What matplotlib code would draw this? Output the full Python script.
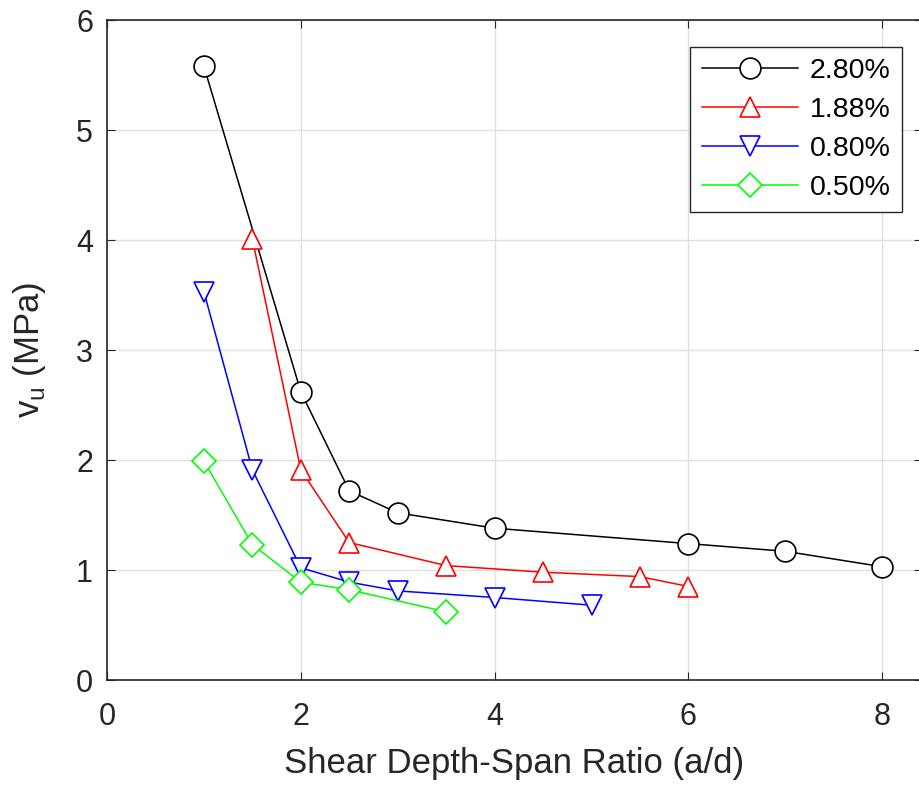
import matplotlib
matplotlib.use("Agg")
import matplotlib.pyplot as plt

plt.rcParams['font.family'] = ['Liberation Sans', 'DejaVu Sans']

x_280 = [1, 2, 2.5, 3, 4, 6, 7, 8]
y_280 = [5.58, 2.62, 1.72, 1.52, 1.38, 1.24, 1.17, 1.03]
x_188 = [1.5, 2, 2.5, 3.5, 4.5, 5.5, 6]
y_188 = [4.01, 1.91, 1.25, 1.04, 0.98, 0.94, 0.85]
x_080 = [1, 1.5, 2, 2.5, 3, 4, 5]
y_080 = [3.53, 1.91, 1.02, 0.89, 0.81, 0.75, 0.68]
x_050 = [1, 1.5, 2, 2.5, 3.5]
y_050 = [1.99, 1.23, 0.89, 0.82, 0.62]
labels = ['2.80%', '1.88%', '0.80%', '0.50%']

fig = plt.figure(figsize=(9.2, 7.86), dpi=100)
xmax = (922 - 107) / 96.9
ax = fig.add_axes([107/920, 1-680/786, 815/920, 660/786])

axc = '#262626'
ax.plot(x_280, y_280, '-o', color='black', mfc='white', mec='black', ms=15, lw=1.1, mew=1.2, label=labels[0])
ax.plot(x_188, y_188, '-^', color='#ff0000', mfc='white', mec='#ff0000', ms=15, lw=1.1, mew=1.2, label=labels[1])
ax.plot(x_080, y_080, '-v', color='#0000ff', mfc='white', mec='#0000ff', ms=15, lw=1.1, mew=1.2, label=labels[2])
ax.plot(x_050, y_050, '-D', color='#00ff00', mfc='white', mec='#00ff00', ms=12, lw=1.1, mew=1.2, label=labels[3])

ax.set_xlim(0, xmax)
ax.set_ylim(0, 6)
ax.set_xticks([0, 2, 4, 6, 8])
ax.set_yticks([0, 1, 2, 3, 4, 5, 6])
ax.grid(True, color='#e0e0e0', lw=1)
ax.set_axisbelow(True)
ax.tick_params(direction='in', top=True, right=True, labelsize=22, colors=axc, length=6)
ax.tick_params(axis='x', pad=16)
ax.tick_params(axis='y', pad=10)
for s in ax.spines.values():
    s.set_color(axc)
    s.set_linewidth(1.2)

ax.set_xlabel('Shear Depth-Span Ratio (a/d)', fontsize=25, color=axc, labelpad=11)
ax.set_ylabel(r'v$_\mathregular{u}$ (MPa)', fontsize=25, color=axc, labelpad=20)

leg = ax.legend(loc='upper right', bbox_to_anchor=(902/920, 1-47/786), bbox_transform=fig.transFigure,
                fontsize=20.5, fancybox=False, framealpha=1, edgecolor='#262626', handlelength=3.4,
                borderpad=0.4, labelspacing=0.45, handletextpad=0.4, borderaxespad=0)
leg.get_frame().set_linewidth(1.0)

fig.savefig('out.png', dpi=100)
